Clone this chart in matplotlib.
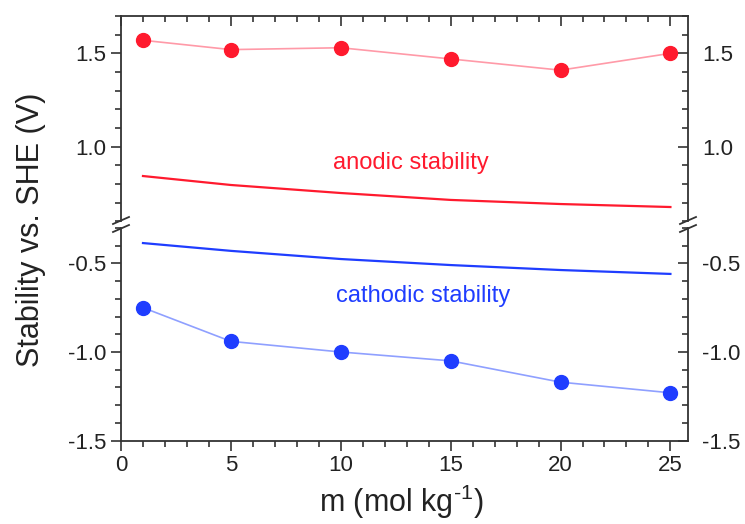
import matplotlib
matplotlib.use("Agg")
import matplotlib.pyplot as plt
from matplotlib.ticker import MultipleLocator
from matplotlib.lines import Line2D

plt.rcParams['font.family'] = ['Liberation Sans', 'DejaVu Sans']
plt.rcParams['mathtext.fontset'] = 'custom'
plt.rcParams['mathtext.rm'] = 'Liberation Sans'
plt.rcParams['mathtext.default'] = 'regular'
plt.rcParams['axes.unicode_minus'] = False

# data
m_exp = [1, 5, 10, 15, 20, 25]
anodic_exp = [1.57, 1.52, 1.53, 1.47, 1.41, 1.50]
cathodic_exp = [-0.75, -0.94, -1.00, -1.05, -1.17, -1.23]
m_calc = [1, 5, 10, 15, 20, 25]
anodic_calc = [0.843, 0.795, 0.752, 0.715, 0.693, 0.677]
cathodic_calc = [-0.386, -0.430, -0.476, -0.510, -0.538, -0.560]

W, H = 745, 524
fig = plt.figure(figsize=(W / 100, H / 100), dpi=100)


def box(l, t, r, b):
    return [l / W, 1 - b / H, (r - l) / W, (b - t) / H]


ax_top = fig.add_axes(box(121, 16, 688, 221.4))
ax_bot = fig.add_axes(box(121, 227.8, 688, 440.7))

red, red_light = '#ff1a2e', '#ff9aa8'
blue, blue_light = '#1f3dff', '#8fa0ff'
spine_c = '#333333'
lab_c = '#222222'
tick_fs = 16

for ax in (ax_top, ax_bot):
    ax.plot(m_exp, anodic_exp, '-', color=red_light, lw=1.2, zorder=2)
    ax.plot(m_exp, anodic_exp, 'o', color=red, ms=10, zorder=3)
    ax.plot(m_calc, anodic_calc, '-', color=red, lw=1.6)
    ax.plot(m_calc, cathodic_calc, '-', color=blue, lw=1.6)
    ax.plot(m_exp, cathodic_exp, '-', color=blue_light, lw=1.2, zorder=2)
    ax.plot(m_exp, cathodic_exp, 'o', color=blue, ms=10, zorder=3)
    ax.set_xlim(0, 25.8)
    ax.xaxis.set_major_locator(MultipleLocator(5))
    ax.xaxis.set_minor_locator(MultipleLocator(1))
    ax.yaxis.set_major_locator(MultipleLocator(0.5))
    ax.yaxis.set_minor_locator(MultipleLocator(0.1))
    for s in ax.spines.values():
        s.set_color(spine_c)
        s.set_linewidth(1.3)
    ax.tick_params(axis='y', which='both', direction='out', left=True, right=False,
                   labelsize=tick_fs, colors=spine_c, labelcolor=lab_c, width=1.2)
    ax.tick_params(axis='y', which='major', length=7)
    ax.tick_params(axis='y', which='minor', length=4)

ax_top.set_ylim(0.6, 1.7)
ax_bot.set_ylim(-1.5, -0.3)

ax_top.spines['bottom'].set_visible(False)
ax_bot.spines['top'].set_visible(False)
ax_top.tick_params(axis='x', which='both', bottom=False, top=True, labelbottom=False,
                   direction='in', colors=spine_c, width=1.2)
ax_top.tick_params(axis='x', which='major', length=7)
ax_top.tick_params(axis='x', which='minor', length=4)
ax_bot.tick_params(axis='x', which='both', bottom=True, top=False, direction='out',
                   labelsize=tick_fs, colors=spine_c, labelcolor=lab_c, width=1.2)
ax_bot.tick_params(axis='x', which='major', length=7)
ax_bot.tick_params(axis='x', which='minor', length=4)
ax_top.set_yticks([1.0, 1.5])
ax_bot.set_yticks([-1.5, -1.0, -0.5])

# right-hand axes, ticks pointing inward
for ax, lim, ticks in ((ax_top, (0.6, 1.7), [1.0, 1.5]), (ax_bot, (-1.5, -0.3), [-1.5, -1.0, -0.5])):
    tw = ax.twinx()
    tw.set_ylim(*lim)
    tw.set_yticks(ticks)
    tw.yaxis.set_minor_locator(MultipleLocator(0.1))
    tw.tick_params(axis='y', which='both', direction='in', labelsize=tick_fs,
                   colors=spine_c, labelcolor=lab_c, width=1.2)
    tw.tick_params(axis='y', which='major', length=7, pad=10)
    tw.tick_params(axis='y', which='minor', length=4)
    for s in tw.spines.values():
        s.set_visible(False)

ax_top.text(13.2, 0.913, 'anodic stability', color=red, fontsize=17, ha='center', va='center')
ax_bot.text(13.75, -0.684, 'cathodic stability', color=blue, fontsize=17, ha='center', va='center')

# axis break marks
for xp in (121, 688):
    for yp in (224, 232):
        fig.add_artist(Line2D([(xp - 8) / W, (xp + 8) / W],
                              [1 - yp / H, 1 - (yp - 7) / H],
                              color=spine_c, lw=1.3))

fig.text(401 / W, 1 - 502 / H, r'm (mol kg$^{\text{-1}}$)', fontsize=22, ha='center',
         va='center', color=lab_c)
fig.text(31 / W, 1 - 230 / H, 'Stability vs. SHE (V)', fontsize=22, rotation=90,
         ha='center', va='center', color=lab_c)

fig.savefig('out.png', dpi=100)
